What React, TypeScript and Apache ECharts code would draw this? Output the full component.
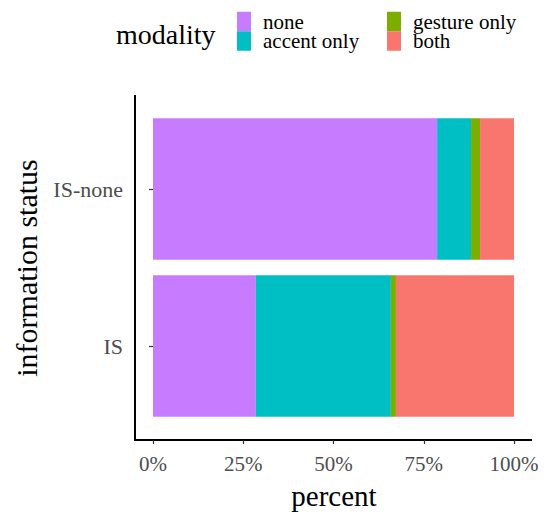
import React, { useEffect, useRef } from "react";
import * as echarts from "echarts";

const categories = ["IS", "IS-none"];
const seriesNames = ["none", "accent only", "gesture only", "both"];
const noneValues = [28.5, 78.7];
const accentValues = [37.4, 9.4];
const gestureValues = [1.4, 2.5];
const bothValues = [32.7, 9.4];
const xTicks = [0, 25, 50, 75, 100];
const colors = ["#C77CFF", "#00BFC4", "#7CAE00", "#F8766D"];

const FONT = "Liberation Serif";

export default function App() {
  const ref = useRef<HTMLDivElement>(null);
  useEffect(() => {
    if (!ref.current) return;
    const chart = echarts.init(ref.current, null, { renderer: "svg" });
    const values = [noneValues, accentValues, gestureValues, bothValues];
    const legendCommon = {
      orient: "vertical",
      top: 6,
      icon: "rect",
      itemWidth: 14,
      itemHeight: 19.5,
      itemGap: -1.5,
      textStyle: { fontFamily: FONT, fontSize: 21, lineHeight: 19, color: "#000", padding: [0, 0, 0, 7] },
    };
    chart.setOption({
      animation: false,
      backgroundColor: "#ffffff",
      textStyle: { fontFamily: FONT },
      grid: {
        left: 153,
        right: 547 - 514,
        top: 110.5,
        bottom: 512 - 424.5,
        containLabel: false,
        outerBoundsMode: "none",
      },
      legend: [
        { ...legendCommon, data: seriesNames.slice(0, 2), left: 232 },
        { ...legendCommon, data: seriesNames.slice(2, 4), left: 382 },
      ],
      xAxis: {
        type: "value",
        min: 0,
        max: 100,
        interval: 25,
        offset: 15.5,
        axisLine: { show: false },
        axisTick: { show: true, length: 4, lineStyle: { color: "#333", width: 1.2 } },
        axisLabel: {
          formatter: (v: number) => (xTicks.includes(v) ? v + "%" : ""),
          fontFamily: FONT,
          fontSize: 21,
          color: "#4D4D4D",
          margin: 13,
        },
        splitLine: { show: false },
      },
      yAxis: {
        type: "category",
        data: categories,
        offset: 18,
        axisLine: { show: false },
        axisTick: { show: true, alignWithLabel: true, length: 4, lineStyle: { color: "#333", width: 1.2 } },
        axisLabel: { fontFamily: FONT, fontSize: 22, color: "#4D4D4D", margin: 12 },
      },
      series: seriesNames.map((name, i) => ({
        name,
        type: "bar",
        stack: "total",
        barWidth: "90%",
        itemStyle: { color: colors[i] },
        data: values[i],
      })),
      graphic: [
        {
          type: "line",
          shape: { x1: 135, y1: 95, x2: 135, y2: 441 },
          style: { stroke: "#000", lineWidth: 2 },
        },
        {
          type: "line",
          shape: { x1: 134, y1: 440, x2: 532, y2: 440 },
          style: { stroke: "#000", lineWidth: 2 },
        },
        {
          type: "text",
          x: 116,
          y: 34,
          style: { text: "modality", fontFamily: FONT, fontSize: 28, fill: "#000", textAlign: "left", textVerticalAlign: "middle" },
        },
        {
          type: "text",
          x: 334,
          y: 496,
          style: { text: "percent", fontFamily: FONT, fontSize: 29, fill: "#000", textAlign: "center", textVerticalAlign: "middle" },
        },
        {
          type: "text",
          x: 26,
          y: 268,
          rotation: Math.PI / 2,
          style: { text: "information status", fontFamily: FONT, fontSize: 30, fill: "#000", textAlign: "center", textVerticalAlign: "middle" },
        },
      ],
    });
    return () => chart.dispose();
  }, []);
  return <div ref={ref} style={{ width: 547, height: 512, position: "absolute", left: 0, top: 0 }} />;
}
